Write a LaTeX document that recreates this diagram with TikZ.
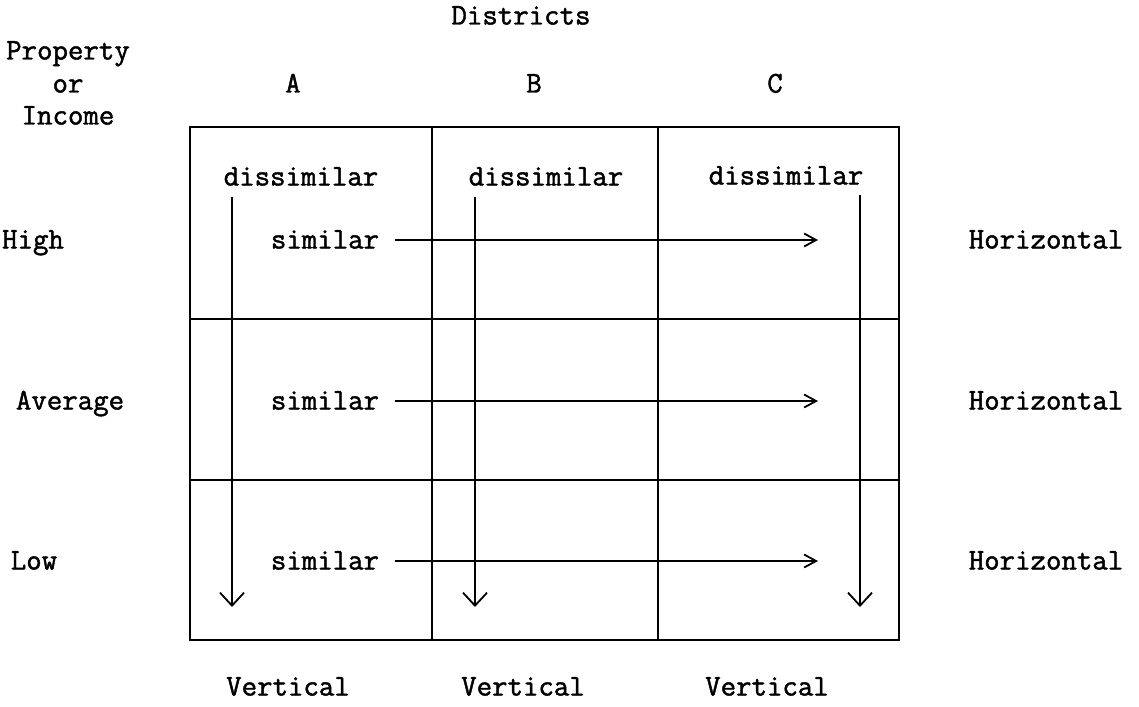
\documentclass[tikz,border=0pt]{standalone}
\usepackage{fontspec}
\setmonofont{Latin Modern Mono}[FakeBold=1.5]
\usetikzlibrary{arrows.meta}
\begin{document}
\begin{tikzpicture}[x=1pt,y=-1pt,
  lbl/.style={font=\ttfamily\fontsize{30}{34}\selectfont, inner sep=0pt, anchor=center, text height=15pt, text depth=4pt},
  grid/.style={line width=2.2pt},
  varr/.style={line width=1.8pt, -{Straight Barb[length=13pt,width=24pt,line width=1.8pt]}},
  harr/.style={line width=2pt, -{Straight Barb[length=12pt,width=13pt,line width=1.8pt]}}]
\useasboundingbox (0,0) rectangle (1139,706);
% grid
\draw[grid] (190,127) rectangle (899,640);
\draw[grid] (432,127) -- (432,640);
\draw[grid] (658,127) -- (658,640);
\draw[grid] (190,319) -- (899,319);
\draw[grid] (190,480) -- (899,480);
% labels
\node[lbl] (dist) at (521,19) {Districts};
\node[lbl] (prop) at (68,54) {Property};
\node[lbl] (or) at (68,87) {or};
\node[lbl] (inc) at (68,119) {Income};
\node[lbl] (colA) at (293,87) {A};
\node[lbl] (colB) at (534,87) {B};
\node[lbl] (colC) at (775,87) {C};
\node[lbl] (dA) at (301,180) {dissimilar};
\node[lbl] (dB) at (546,180) {dissimilar};
\node[lbl] (dC) at (786,179) {dissimilar};
\node[lbl] (sH) at (325,243) {similar};
\node[lbl] (sM) at (325,404) {similar};
\node[lbl] (sL) at (325,564) {similar};
\node[lbl] (high) at (33,243) {High};
\node[lbl] (avg) at (70,404) {Average};
\node[lbl] (low) at (34,564) {Low};
\node[lbl] (hH) at (1046,243) {Horizontal};
\node[lbl] (hM) at (1046,404) {Horizontal};
\node[lbl] (hL) at (1046,564) {Horizontal};
\node[lbl] (vA) at (288,690) {Vertical};
\node[lbl] (vB) at (523,690) {Vertical};
\node[lbl] (vC) at (767,690) {Vertical};
% arrow end points
\coordinate (aA1) at (232,197); \coordinate (aA2) at (232,607);
\coordinate (aB1) at (475,197); \coordinate (aB2) at (475,607);
\coordinate (aC1) at (860,195); \coordinate (aC2) at (860,607);
\coordinate (eH) at (818,240);
\coordinate (eM) at (818,401);
\coordinate (eL) at (818,561);
\draw[varr] (aA1) -- (aA2);
\draw[varr] (aB1) -- (aB2);
\draw[varr] (aC1) -- (aC2);
\draw[harr] (sH.east) ++(16,-3) coordinate (sH0) -- (eH);
\draw[harr] (sM.east) ++(16,-3) coordinate (sM0) -- (eM);
\draw[harr] (sL.east) ++(16,-3) coordinate (sL0) -- (eL);
\end{tikzpicture}
\end{document}
